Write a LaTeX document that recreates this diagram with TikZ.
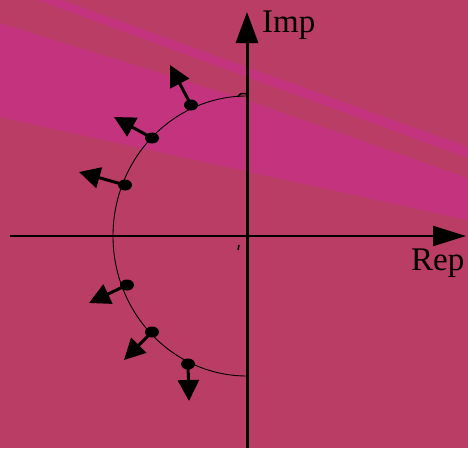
\documentclass[tikz,border=0pt]{standalone}
\usepackage{fontspec}
\setmainfont{Liberation Serif}
\usetikzlibrary{arrows.meta,shapes.geometric}
\definecolor{bgmain}{HTML}{B93D65}
\definecolor{bgband}{HTML}{C3337E}
\begin{document}
\begin{tikzpicture}[x=1pt,y=-1pt,
  dot/.style={ellipse,fill=black,inner sep=0pt,minimum width=14pt,minimum height=11pt},
  vec/.style={line width=3pt,-{Triangle[length=21pt,width=21pt]}},
  lbl/.style={font=\fontsize{33}{36}\selectfont,inner sep=0pt,anchor=base west}]
\useasboundingbox (0,0) rectangle (468,448);
% background
\fill[bgmain] (0,0) rectangle (468,448);
\fill[bgband] (0,23) -- (247,100) -- (468,178) -- (468,220) -- (0,117) -- cycle;
\fill[bgband] (38,0) -- (62,0) -- (468,147) -- (468,158) -- cycle;
% axes
\coordinate (xs) at (10,236);
\coordinate (xe) at (466,236);
\coordinate (ys) at (247,448);
\coordinate (ye) at (247,12);
\draw[line width=2pt,-{Triangle[length=33pt,width=20pt]}] (xs) -- (xe);
\draw[line width=3pt,-{Triangle[length=31pt,width=22pt]}] (ys) -- (ye);
\node[lbl] (imp) at (262,32) {Imp};
\node[lbl] (rep) at (411,270) {Rep};
% arc
\draw[line width=0.9pt] (247,96) arc[start angle=-90,end angle=-270,x radius=134,y radius=140];
\draw[line width=1.5pt] (238,97) .. controls (239,93) and (243,93) .. (247,94);
\draw[line width=1.5pt] (239,245) -- (238,250);
% dots and arrows
\node[dot] (d1) at (191,105) {};
\node[dot] (d2) at (152,138) {};
\node[dot] (d3) at (125,185) {};
\node[dot] (d4) at (127,285) {};
\node[dot] (d5) at (152,332) {};
\node[dot] (d6) at (188,364) {};
\coordinate (t1) at (170,65);
\coordinate (t2) at (114,117);
\coordinate (t3) at (79,172);
\coordinate (t4) at (89,303);
\coordinate (t5) at (124,360);
\coordinate (t6) at (189,401);
\foreach \i in {1,...,6} \draw[vec] (d\i.center) -- (t\i);
\end{tikzpicture}
\end{document}
